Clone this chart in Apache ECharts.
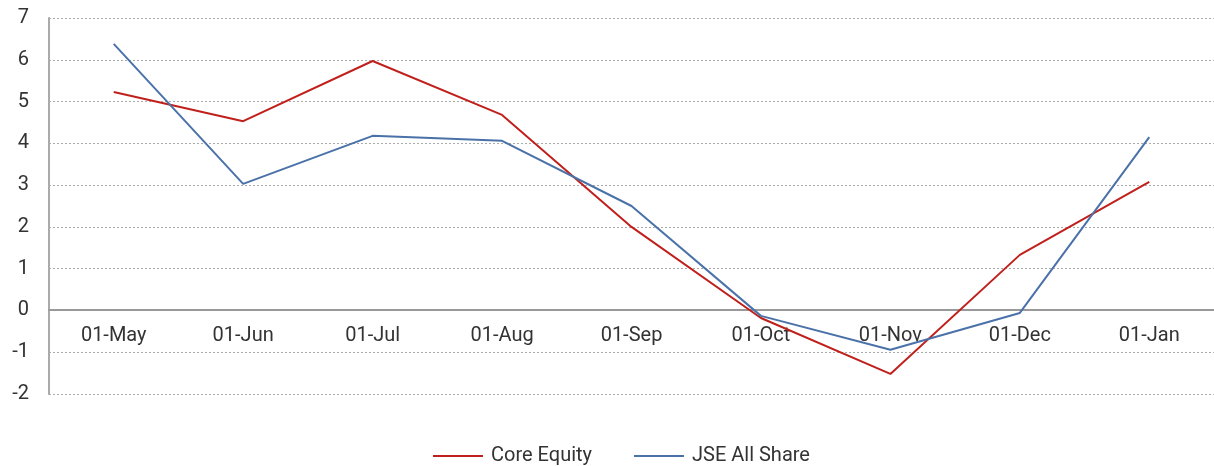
<!DOCTYPE html>
<html>
<head>
<meta charset="utf-8">
<script src="https://cdn.jsdelivr.net/npm/echarts@6/dist/echarts.min.js"></script>
<style>
  html, body { margin: 0; padding: 0; background: #fff; }
  #main { width: 1214px; height: 466px; }
</style>
</head>
<body>
<div id="main"></div>
<script>
var months = ['01-May', '01-Jun', '01-Jul', '01-Aug', '01-Sep', '01-Oct', '01-Nov', '01-Dec', '01-Jan'];
var coreEquity = [5.23, 4.53, 5.97, 4.68, 2.0, -0.18, -1.52, 1.33, 3.08];
var jseAllShare = [6.38, 3.03, 4.18, 4.06, 2.5, -0.13, -0.94, -0.06, 4.15];

var chartDom = document.getElementById('main');
var myChart = echarts.init(chartDom);
var font = 'Roboto';

var option = {
  animation: false,
  grid: { left: 49, right: 0, top: 18, bottom: 72 },
  legend: {
    top: 441,
    left: 428,
    itemWidth: 50,
    itemHeight: 2,
    itemGap: 42,
    icon: 'rect',
    textStyle: { fontFamily: font, fontSize: 20, color: '#333', padding: [0, 0, 0, 3] },
    data: ['Core Equity', 'JSE All Share']
  },
  xAxis: {
    type: 'category',
    data: months,
    boundaryGap: true,
    offset: -84,
    axisLine: { onZero: false, lineStyle: { color: '#999', width: 2 } },
    axisTick: { show: false },
    axisLabel: { fontFamily: font, fontSize: 20, color: '#333', margin: 16 }
  },
  yAxis: {
    type: 'value',
    min: -2,
    max: 7,
    interval: 1,
    axisLine: { show: true, lineStyle: { color: '#aaa', width: 2 } },
    axisTick: { show: false },
    axisLabel: { fontFamily: font, fontSize: 20, color: '#333', margin: 20 },
    splitLine: { lineStyle: { color: '#aaa', type: [2, 2], width: 1 } }
  },
  series: [
    {
      name: 'Core Equity',
      type: 'line',
      data: coreEquity,
      symbol: 'none',
      lineStyle: { color: '#c0201c', width: 2 },
      itemStyle: { color: '#c0201c' }
    },
    {
      name: 'JSE All Share',
      type: 'line',
      data: jseAllShare,
      symbol: 'none',
      lineStyle: { color: '#4a72a8', width: 2 },
      itemStyle: { color: '#4a72a8' }
    }
  ]
};

option && myChart.setOption(option);
</script>
</body>
</html>
